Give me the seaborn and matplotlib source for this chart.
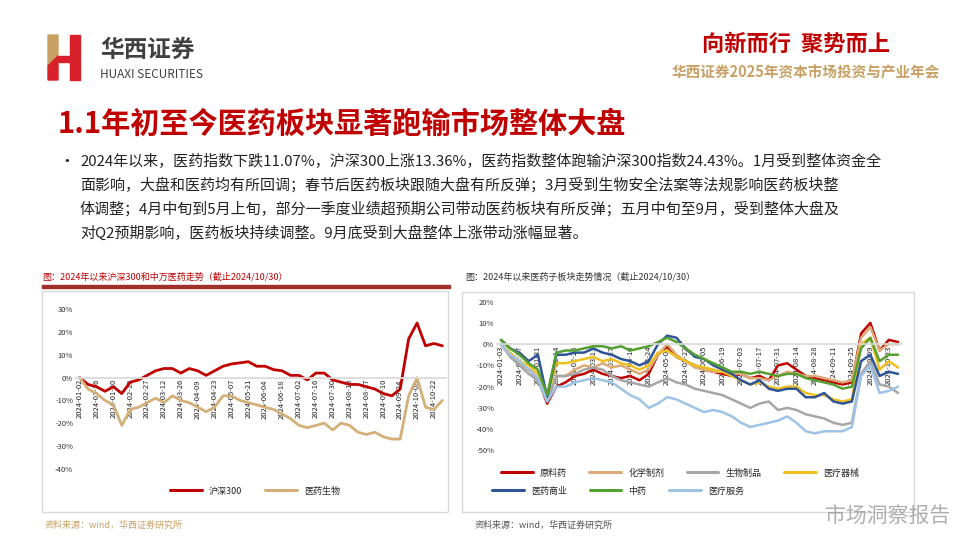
import matplotlib
matplotlib.use("Agg")
import matplotlib.pyplot as plt
import matplotlib.dates as mdates
import seaborn as sns
import pandas as pd
from matplotlib.patches import Rectangle, Polygon

sns.set_theme(style="white")
plt.rcParams['font.family'] = ['Noto Sans CJK SC', 'DejaVu Sans']

# ---------- data ----------
left_dates = pd.date_range("2024-01-02", periods=44, freq="7D")
hs300 = [0,-3,-4,-6,-4,-7,-2,-1,1,3, 4,4,2,4,3,1,3,5,6,6.5, 7,5,5,3.5,3,1,1,-1,2,2,
         -1,-2,-3,-3,-4,-5,-7,-8,-5,17, 24,14,15,14]
yiyao = [0,-5,-7,-10,-12,-21,-14,-13,-11,-9, -11,-8,-10,-11,-13,-15,-13,-8,-8,-10,
         -11,-12,-13,-14,-16,-18,-21,-22,-21,-20, -23,-20,-21,-24,-25,-24,-26,-27,-27,-8, 0,-13,-14,-10]

right_dates = pd.date_range("2024-01-03", periods=44, freq="7D")
ylyao = [0,-5,-9,-12,-16,-28,-20,-18,-15,-14, -12,-14,-15,-16,-15,-17,-14,-5,-1,-6,
         -8,-10,-12,-13,-14,-15,-14,-16,-15,-17, -10,-9,-12,-15,-16,-17,-18,-19,-18,5, 10,-3,2,1]
hxzj = [0,-5,-9,-12,-16,-26,-15,-15,-12,-10, -11,-9,-11,-10,-12,-14,-12,-5,0,-5,
        -8,-11,-12,-13,-13,-14,-14,-16,-16,-17, -15,-13,-14,-15,-15,-16,-17,-18,-17,3, 8,-3,0,0]
swzp = [0,-6,-10,-14,-17,-27,-15,-15,-14,-12, -11,-12,-15,-17,-18,-19,-20,-18,-16,-18,
        -19,-21,-22,-23,-24,-26,-28,-30,-28,-27, -31,-30,-31,-33,-34,-35,-37,-38,-37,-14, -8,-19,-20,-23]
ylqx = [0,-4,-8,-10,-14,-25,-9,-9,-8,-7, -6,-8,-7,-9,-10,-12,-10,-4,-3,-6,
        -8,-10,-11,-12,-13,-15,-17,-19,-18,-20, -21,-20,-20,-23,-24,-24,-26,-27,-26,0, 3,-12,-8,-11]
yysy = [2,-2,-4,-8,-5,-25,-5,-5,-4,-4, -2,-4,-5,-7,-8,-10,-8,0,4,3,
        -2,-6,-7,-10,-12,-14,-17,-19,-17,-21, -22,-21,-21,-25,-25,-23,-27,-28,-27,-8, -5,-15,-13,-14]
zy = [2,-2,-5,-9,-12,-24,-4,-3,-3,-2, -1,-1,-2,-1,-3,-2,-1,1,3,1,
      -2,-5,-7,-9,-11,-13,-13,-14,-13,-14, -15,-14,-14,-16,-17,-18,-19,-21,-20,-2, 3,-8,-5,-5]
ylfw = [0,-5,-8,-12,-16,-27,-20,-20,-18,-17, -16,-17,-18,-21,-24,-26,-30,-28,-25,-26,
        -28,-30,-32,-31,-32,-34,-37,-39,-38,-37, -36,-34,-37,-41,-42,-41,-41,-41,-39,-15, -10,-23,-22,-20]

left_names = ["沪深300", "医药生物"]
left_colors = ["#C00000", "#D4B078"]
right_names = ["原料药", "化学制剂", "生物制品", "医疗器械", "医药商业", "中药", "医疗服务"]
right_colors = ["#C00000", "#DDAA77", "#A6A6A6", "#F0C020", "#2F5597", "#55A030", "#9DC3E6"]

W, H = 960, 540
fig = plt.figure(figsize=(9.6, 5.4), dpi=100)
fig.patch.set_facecolor("white")

def fx(x): return x / W
def fy(y): return 1 - y / H

# ---------- header ----------
fig.patches.append(Polygon([[fx(48), fy(35)], [fx(58), fy(35)], [fx(58), fy(56)], [fx(48), fy(66)]],
                           closed=True, transform=fig.transFigure, color="#C9A063"))
fig.patches.append(Polygon([[fx(48), fy(80)], [fx(48), fy(66)], [fx(58), fy(56)], [fx(58), fy(80)]],
                           closed=True, transform=fig.transFigure, color="#D7202A"))
fig.patches.append(Rectangle((fx(70), fy(80)), fx(10), 45 / H, transform=fig.transFigure, color="#D7202A"))
fig.patches.append(Rectangle((fx(58), fy(62)), fx(12), 6 / H, transform=fig.transFigure, color="#D7202A"))
fig.text(fx(100), fy(50), "华西证券", fontsize=17, color="#404040", va="center", fontweight="bold")
fig.text(fx(100), fy(74), "HUAXI SECURITIES", fontsize=8.5, color="#404040", va="center")
fig.text(fx(890), fy(44), "向新而行  聚势而上", fontsize=16, color="#C00000", va="center", ha="right",
         fontweight="bold", style="italic")
fig.text(fx(940), fy(72), "华西证券2025年资本市场投资与产业年会", fontsize=10.5, color="#C9A063",
         va="center", ha="right", fontweight="bold")
fig.text(fx(58), fy(124), "1.1年初至今医药板块显著跑输市场整体大盘", fontsize=21, color="#C00000",
         va="center", fontweight="bold")

# ---------- body text ----------
lines = ["2024年以来，医药指数下跌11.07%，沪深300上涨13.36%，医药指数整体跑输沪深300指数24.43%。1月受到整体资金全",
         "面影响，大盘和医药均有所回调；春节后医药板块跟随大盘有所反弹；3月受到生物安全法案等法规影响医药板块整",
         "体调整；4月中旬到5月上旬，部分一季度业绩超预期公司带动医药板块有所反弹；五月中旬至9月，受到整体大盘及",
         "对Q2预期影响，医药板块持续调整。9月底受到大盘整体上涨带动涨幅显著。"]
fig.text(fx(58), fy(161), "•", fontsize=12, color="#222222", va="center")
for i, ln in enumerate(lines):
    fig.text(fx(80), fy(161 + 24 * i), ln, fontsize=10.8, color="#222222", va="center")

# ---------- captions ----------
fig.text(fx(42), fy(277), "图：2024年以来沪深300和中万医药走势（截止2024/10/30）", fontsize=6.5,
         color="#C00000", va="center")
fig.patches.append(Rectangle((fx(42), fy(288)), fx(408), 3 / H, transform=fig.transFigure, color="#A0302A"))
fig.text(fx(465), fy(277), "图：2024年以来医药子板块走势情况（截止2024/10/30）", fontsize=6.5,
         color="#333333", va="center")
fig.patches.append(Rectangle((fx(42), fy(512)), fx(406), 221 / H, transform=fig.transFigure,
                             fill=False, edgecolor="#D9D9D9", lw=1))
fig.patches.append(Rectangle((fx(462), fy(512)), fx(452), 220 / H, transform=fig.transFigure,
                             fill=False, edgecolor="#D9D9D9", lw=1))
fig.text(fx(45), fy(525), "资料来源：wind，华西证券研究所", fontsize=6.5, color="#C9A063", va="center")
fig.text(fx(475), fy(525), "资料来源：wind，华西证券研究所", fontsize=6.5, color="#555555", va="center")
fig.text(fx(950), fy(516), "市场洞察报告", fontsize=15, color="#9a9a9a", va="center", ha="right", alpha=0.8)

def style_axes(ax, dates, yticks, ylim):
    ax.set_ylim(*ylim)
    ax.set_xlim(dates[0] - pd.Timedelta(days=3), dates[-1] + pd.Timedelta(days=3))
    ax.set_yticks(yticks)
    ax.set_yticklabels([f"{v}%" for v in yticks], fontsize=5.5, color="#333333")
    for s in ["top", "right", "left"]:
        ax.spines[s].set_visible(False)
    ax.spines["bottom"].set_position(("data", 0))
    ax.spines["bottom"].set_color("#D9D9D9")
    ax.set_xticks(dates[::2])
    ax.xaxis.set_major_formatter(mdates.DateFormatter("%Y-%m-%d"))
    ax.tick_params(axis="x", labelsize=5.5, rotation=90, length=0, pad=1, colors="#222222")
    ax.tick_params(axis="y", length=0, pad=2)
    ax.set_xlabel(""); ax.set_ylabel("")
    ax.grid(False)
    ax.set_facecolor("none")

# ---------- left chart ----------
axL = fig.add_axes([fx(76), fy(480), fx(370), (480 - 298) / H])
dfL = pd.DataFrame({"date": list(left_dates) * 2,
                    "value": hs300 + yiyao,
                    "series": [left_names[0]] * 44 + [left_names[1]] * 44})
sns.lineplot(data=dfL, x="date", y="value", hue="series", palette=left_colors, lw=2, ax=axL, legend=False)
style_axes(axL, left_dates, [-40, -30, -20, -10, 0, 10, 20, 30], (-45, 35))
hL = [plt.Line2D([], [], color=c, lw=2.2) for c in left_colors]
fig.legend(hL, left_names, loc="center", bbox_to_anchor=(fx(255), fy(491)), ncol=2, frameon=False,
           fontsize=6.5, handlelength=3.5, columnspacing=2.5)

# ---------- right chart ----------
axR = fig.add_axes([fx(497), fy(461), fx(405), (461 - 291) / H])
series_vals = [ylyao, hxzj, swzp, ylqx, yysy, zy, ylfw]
dfR = pd.DataFrame({"date": list(right_dates) * 7,
                    "value": sum(series_vals, []),
                    "series": sum([[n] * 44 for n in right_names], [])})
sns.lineplot(data=dfR, x="date", y="value", hue="series", hue_order=right_names, palette=right_colors,
             lw=1.8, ax=axR, legend=False)
style_axes(axR, right_dates, [-50, -40, -30, -20, -10, 0, 10, 20], (-55, 25))
hR = [plt.Line2D([], [], color=c, lw=2.2) for c in right_colors]
fig.legend(hR[:4], right_names[:4], loc="center", bbox_to_anchor=(fx(680), fy(473)), ncol=4,
           frameon=False, fontsize=6.5, handlelength=3.5, columnspacing=2.5)
fig.legend(hR[4:], right_names[4:], loc="center", bbox_to_anchor=(fx(618), fy(491)), ncol=3,
           frameon=False, fontsize=6.5, handlelength=3.5, columnspacing=2.5)

fig.savefig("out.png", dpi=100, facecolor="white")
